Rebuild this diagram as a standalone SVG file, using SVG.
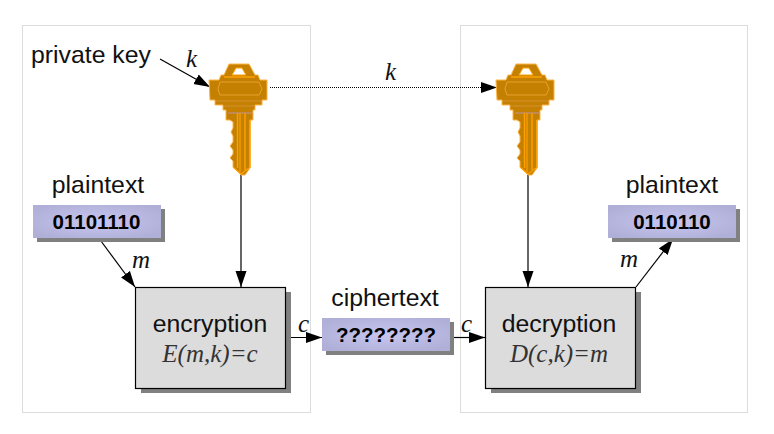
<svg xmlns="http://www.w3.org/2000/svg" width="774" height="434" viewBox="0 0 774 434">
<style>
.panel{fill:#fff;stroke:#dcdcdc;stroke-width:1}
.shadow{fill:#808080}
.data{fill:url(#dataFill)}
.proc{fill:#dcdcdc;stroke:#000;stroke-width:1.2}
.sans{font-family:"Liberation Sans",Arial,sans-serif;fill:#000}
.label{font-size:24.800px;text-anchor:middle;fill:#111}
.bits{font-size:20.500px;font-weight:bold;text-anchor:middle;fill:#000}
.serif{font-family:"Liberation Serif","Times New Roman",serif;font-style:italic;font-size:25px;fill:#111}
.formula{fill:#333;text-anchor:middle}
.wire{stroke:#000;stroke-width:1.2;fill:none;marker-end:url(#head)}
.dotted{stroke-dasharray:1 1;stroke-width:1}
</style>
<defs>
<radialGradient id="dataFill" cx="50%" cy="50%" r="60%">
<stop offset="0" stop-color="#c6c6f0"/>
<stop offset="1" stop-color="#afafd8"/>
</radialGradient>
<marker id="head" markerUnits="userSpaceOnUse" markerWidth="17" markerHeight="12" refX="16" refY="6" orient="auto">
<path d="M0 0.500L16 6L0 11.500Z" fill="#000"/>
</marker>
<g id="keyShape">
<!-- bow, stepped shoulders and cut blade -->
<path d="M209 80H219L221 75H224L229 64H249L255 75H258L260 80H267V100H262V105H255V110H253V120H250V168L245 175H241L233 167V161L230 158L233 154V150L230 146L233 142V136L231 132L233 128V122L230 120H226V110H223V105H215V100H210Z" fill="#c48000" stroke="#ffb347" stroke-width="1"/>
<path d="M232 75L236 68H242L246 75Z" fill="#fff" stroke="#ffa000" stroke-width="1"/>
<path d="M224 77H255" stroke="#ffa000" stroke-width="1.500" fill="none"/>
<path d="M220 82H259L262 89L259 95H220L218 89Z" fill="#c48000" stroke="#e8a030" stroke-width="1"/>
<path d="M216 101H262M223 106H255" stroke="#d49030" stroke-width="1" fill="none"/>
<path d="M228 113H252" stroke="#c08a50" stroke-width="2" fill="none"/>
<!-- blade grooves -->
<path d="M237.500 113V168M245 113V170M250 120V168" stroke="#ffa000" stroke-width="1.400" fill="none"/>
<path d="M240 113V172" stroke="#ffa000" stroke-width="1.200" fill="none"/>
<path d="M233 167L241 174L249 168" stroke="#ffa000" stroke-width="1.200" fill="none"/>
</g>
</defs>

<g id="panel-sender"><rect class="panel" x="22.500" y="25.500" width="288" height="387"/></g>
<g id="panel-receiver"><rect class="panel" x="460.500" y="25.500" width="287" height="387"/></g>

<g id="connectors">
<path class="wire" d="M160 59L210 87"/>
<path class="wire dotted" d="M270 87.500H497"/>
<path class="wire" d="M241 174V287"/>
<path class="wire" d="M528 174V287"/>
<path class="wire" d="M98 237L135 287"/>
<path class="wire" d="M286 337.500H322"/>
<path class="wire" d="M454 337.500H485"/>
<path class="wire" d="M636 287L673 239"/>
</g>

<g id="key-sender"><use href="#keyShape"/></g>
<g id="key-receiver"><use href="#keyShape" x="287"/></g>

<g id="label-private-key"><text class="sans label" x="91" y="63">private key</text></g>
<g id="label-k-sender"><text class="serif" x="186" y="67">k</text></g>
<g id="label-k-shared"><text class="serif" x="385" y="80">k</text></g>

<g id="plaintext-in">
<text class="sans label" x="98" y="193">plaintext</text>
<rect class="shadow" x="37" y="209" width="128" height="33"/>
<rect class="data" x="33" y="205" width="128" height="33"/>
<text class="sans bits" x="96.500" y="229">01101110</text>
</g>
<g id="label-m-in"><text class="serif" x="132" y="268">m</text></g>

<g id="encryption">
<rect class="shadow" x="141" y="292" width="150" height="101"/>
<rect class="proc" x="135.500" y="287.500" width="150" height="101"/>
<text class="sans label" x="210" y="332">encryption</text>
<text class="serif formula" x="210" y="362">E(m,k)=c</text>
</g>
<g id="label-c-out"><text class="serif" x="298" y="332">c</text></g>

<g id="ciphertext">
<text class="sans label" x="385" y="306">ciphertext</text>
<rect class="shadow" x="326" y="322" width="128" height="33"/>
<rect class="data" x="322" y="318" width="128" height="33"/>
<text class="sans bits" x="386" y="342">????????</text>
</g>
<g id="label-c-in"><text class="serif" x="461" y="332">c</text></g>

<g id="decryption">
<rect class="shadow" x="491" y="292" width="150" height="101"/>
<rect class="proc" x="485.500" y="287.500" width="150" height="101"/>
<text class="sans label" x="559" y="332">decryption</text>
<text class="serif formula" x="559" y="362">D(c,k)=m</text>
</g>
<g id="label-m-out"><text class="serif" x="620" y="267">m</text></g>

<g id="plaintext-out">
<text class="sans label" x="672" y="193">plaintext</text>
<rect class="shadow" x="612" y="209" width="128" height="33"/>
<rect class="data" x="608" y="205" width="128" height="33"/>
<text class="sans bits" x="672" y="229">0110110</text>
</g>
</svg>
